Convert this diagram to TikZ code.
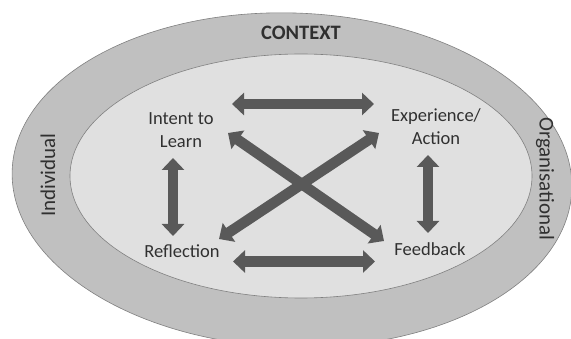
\documentclass[tikz,border=0pt]{standalone}
\usepackage{fontspec}
\setmainfont{Carlito}
\usetikzlibrary{arrows.meta}
\definecolor{ringc}{RGB}{192,192,192}
\definecolor{innerc}{RGB}{224,224,224}
\definecolor{edgec}{RGB}{128,128,128}
\definecolor{arrc}{RGB}{89,89,89}
\definecolor{txtc}{RGB}{48,48,48}
\begin{document}
\begin{tikzpicture}[x=1pt,y=-1pt,
  dbl/.style={draw=arrc, line width=10.5pt,
    {Triangle[width=22pt,length=12pt]}-{Triangle[width=22pt,length=12pt]}},
  lbl/.style={text=txtc, font=\fontsize{18.5}{23}\selectfont, align=center, inner sep=0pt},
  side/.style={text=txtc, font=\fontsize{21}{25}\selectfont, inner sep=0pt},
  ringst/.style={draw=edgec, line width=0.6pt}]
\useasboundingbox (0,0) rectangle (571,339);
\fill[white] (0,0) rectangle (571,339);
\draw[ringst, fill=ringc, rotate around={-2:(292,180)}] (292,180) ellipse [x radius=280pt, y radius=167pt];
\draw[ringst, fill=innerc] (301,176) ellipse [x radius=231pt, y radius=122pt];
\node[text=txtc, inner sep=0pt, font=\bfseries\fontsize{20.5}{24}\selectfont] (ctx) at (301,33) {CONTEXT};
\node[side, rotate=90] (ind) at (48,175) {Individual};
\node[side, rotate=-90] (org) at (545,179) {Organisational};
\node[lbl] (intent) at (181,130) {Intent to\\Learn};
\node[lbl] (exp) at (436,127) {Experience/\\Action};
\node[lbl] (refl) at (182,251) {Reflection};
\node[lbl] (feed) at (430,249) {Feedback};
\coordinate (t1) at (232,104);
\coordinate (t2) at (374,104);
\coordinate (b1) at (233,261.5);
\coordinate (b2) at (375,261.5);
\coordinate (l1) at (173,158);
\coordinate (l2) at (173,236);
\coordinate (r1) at (428,155);
\coordinate (r2) at (428,233);
\coordinate (d1a) at (228,133);
\coordinate (d1b) at (384,241);
\coordinate (d2a) at (379,133);
\coordinate (d2b) at (219,239);
\draw[dbl] (t1) -- (t2);
\draw[dbl] (b1) -- (b2);
\draw[dbl] (l1) -- (l2);
\draw[dbl] (r1) -- (r2);
\draw[dbl] (d1a) -- (d1b);
\draw[dbl] (d2a) -- (d2b);
\end{tikzpicture}
\end{document}
